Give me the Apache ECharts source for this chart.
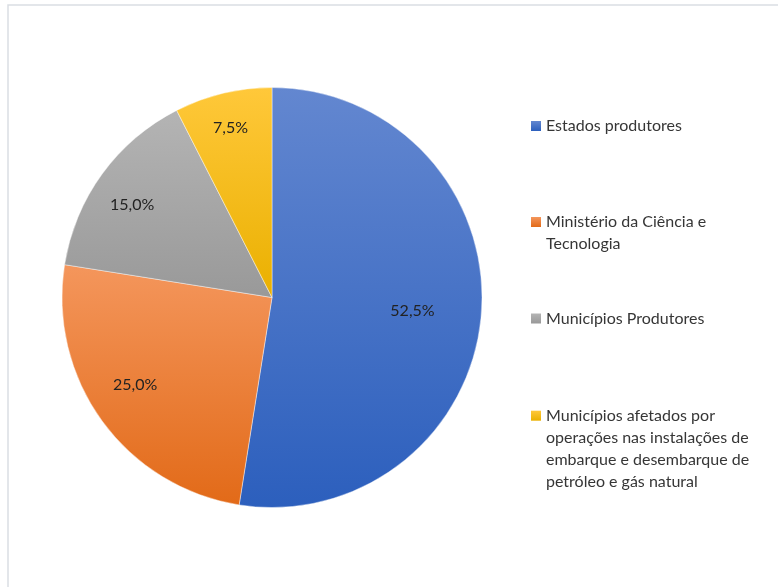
<!DOCTYPE html>
<html>
<head>
<meta charset="utf-8">
<script src="https://cdn.jsdelivr.net/npm/echarts@6/dist/echarts.min.js"></script>
<style>
  html, body { margin: 0; padding: 0; background: #fff; }
  #chart { width: 778px; height: 587px; }
</style>
</head>
<body>
<div id="chart"></div>
<script>
// Distribuição dos royalties (participação de cada beneficiário)
const categories = [
  'Estados produtores',
  'Ministério da Ciência e\nTecnologia',
  'Municípios Produtores',
  'Municípios afetados por\noperações nas instalações de\nembarque e desembarque de\npetróleo e gás natural'
];
const shares = [52.5, 25.0, 15.0, 7.5];

// Gradient stops per slice: lighter at the top, darker at the bottom
const topColors = ['#6387d0', '#f4965c', '#b4b4b4', '#ffc83a'];
const bottomColors = ['#2c5fbd', '#e26a18', '#999999', '#eab000'];
// Nudges for the percentage labels (pixels)
const labelNudges = [[-30, 0], [1.5, -13], [-1.5, 8], [-1.5, -3.5]];

const CX = 272, CY = 297.5, R = 210;
const FONT = 'Lato, "Open Sans", sans-serif';
const LH = 22;

const fmtPct = v => v.toFixed(1).replace('.', ',') + '%';

const sliceData = categories.map((name, i) => ({
  name: name,
  value: shares[i],
  itemStyle: {
    color: new echarts.graphic.LinearGradient(0, 0, 0, 1, [
      { offset: 0, color: topColors[i] },
      { offset: 1, color: bottomColors[i] }
    ])
  }
}));

const labelData = categories.map((name, i) => ({
  name: name,
  value: shares[i],
  label: { offset: labelNudges[i] }
}));

// One legend block per entry; leading blank lines keep the marker on the first text line
const legendMarkerY = [126, 222, 318.5, 415.7];
const legends = categories.map((name, i) => {
  const lines = name.split('\n').length;
  return {
    data: [{ name: name, icon: 'rect', itemStyle: { borderWidth: 0 } }],
    orient: 'vertical',
    left: 531,
    top: legendMarkerY[i] - (2 * lines - 1) * LH / 2,
    padding: 0,
    itemWidth: 10,
    itemHeight: 10,
    selectedMode: false,
    formatter: n => '\n'.repeat(lines - 1) + n,
    textStyle: {
      fontFamily: FONT,
      fontSize: 16,
      color: '#363636',
      lineHeight: LH
    }
  };
});

const chart = echarts.init(document.getElementById('chart'), null, { renderer: 'canvas' });
chart.setOption({
  backgroundColor: '#ffffff',
  animation: false,
  color: bottomColors,
  legend: legends,
  graphic: [{
    type: 'rect',
    silent: true,
    shape: { x: 8, y: 5, width: 800, height: 600 },
    style: { fill: 'none', stroke: '#dadee3', lineWidth: 1.5 }
  }],
  series: [
    {
      type: 'pie',
      center: [CX, CY],
      radius: [0, R],
      startAngle: 90,
      clockwise: true,
      silent: true,
      label: { show: false },
      labelLine: { show: false },
      itemStyle: { borderColor: 'rgba(255,255,255,0.7)', borderWidth: 0.6 },
      data: sliceData
    },
    {
      // transparent ring carrying the percentage labels
      type: 'pie',
      center: [CX, CY],
      radius: [126, R],
      startAngle: 90,
      clockwise: true,
      silent: true,
      itemStyle: { color: 'rgba(0,0,0,0)' },
      label: {
        show: true,
        position: 'inside',
        fontFamily: FONT,
        fontSize: 16,
        color: '#222222',
        formatter: p => fmtPct(p.value)
      },
      labelLine: { show: false },
      data: labelData
    }
  ]
});
</script>
</body>
</html>
